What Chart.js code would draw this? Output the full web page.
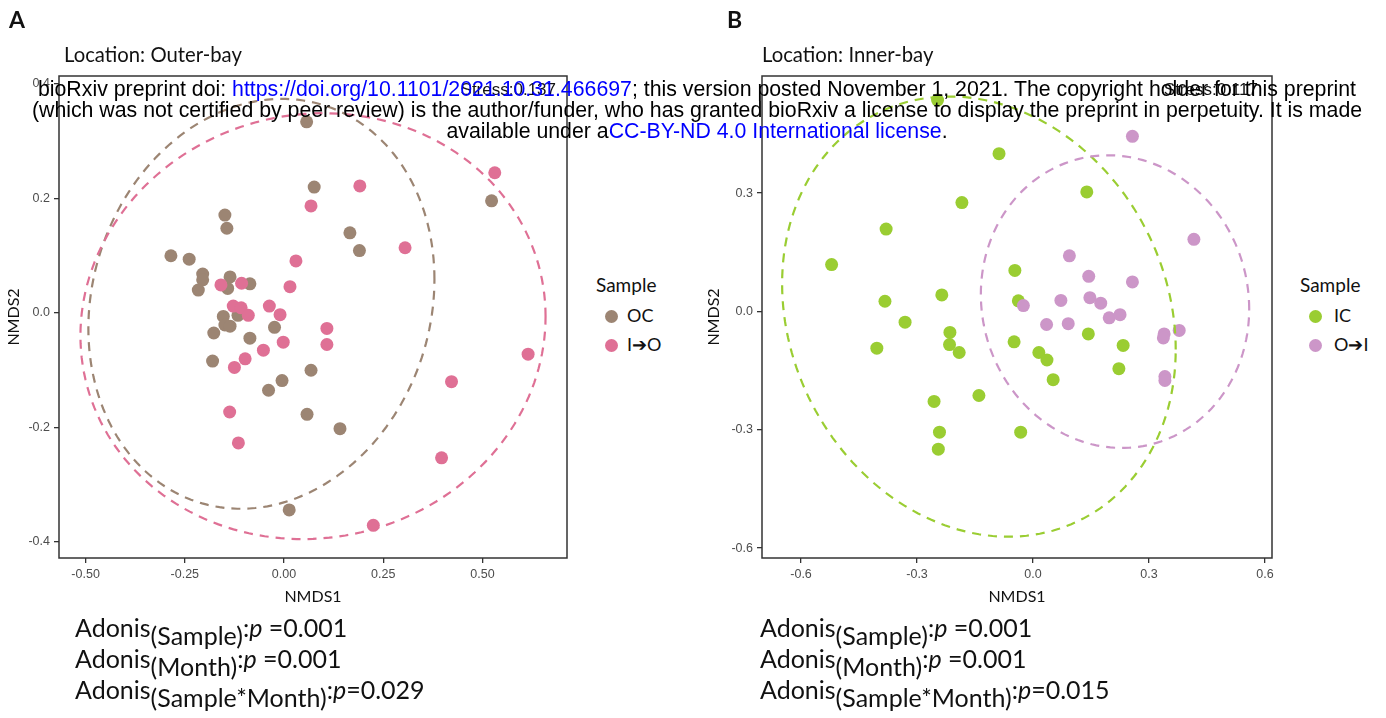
<!DOCTYPE html>
<html>
<head>
<meta charset="utf-8">
<script src="https://cdn.jsdelivr.net/npm/chart.js@4"></script>
<style>
body { margin: 0; background: #fff; width: 1386px; height: 718px; overflow: hidden; position: relative; font-family: Lato, "Open Sans", sans-serif; color: #111; }
canvas { position: absolute; top: 0; }
.txt { position: absolute; white-space: nowrap; }
.letter { font-weight: bold; font-size: 23px; top: 5px; }
.title { font-size: 20.3px; top: 42px; }
.legend-title { font-size: 19px; }
.legend-item { font-size: 18px; }
.dot { position: absolute; width: 13px; height: 13px; border-radius: 50%; }
.adonis { font-size: 25px; line-height: 31px; top: 612px; }
.adonis sub { font-size: 1em; vertical-align: -0.33em; line-height: 0; }
#wm { position: absolute; left: 4px; top: 79px; width: 1386px; text-align: center; font-family: "Liberation Sans", Arial, sans-serif; font-size: 21.3px; line-height: 21px; color: #000; z-index: 5; }
#wm .blue { color: #0000ff; }
.stress { font-family: "Liberation Sans", Arial, sans-serif; font-size: 17px; top: 80px; z-index: 4; }
</style>
</head>
<body>
<canvas id="outer" width="580" height="620" style="left:0px"></canvas>
<canvas id="inner" width="585" height="620" style="left:700px"></canvas>

<div class="txt letter" style="left:9px">A</div>
<div class="txt letter" style="left:727px">B</div>
<div class="txt title" style="left:64px">Location: Outer-bay</div>
<div class="txt title" style="left:762px">Location: Inner-bay</div>

<div class="txt legend-title" style="left:596px;top:273px">Sample</div>
<div class="dot" style="left:605px;top:310px;background:#9c8573"></div>
<div class="txt legend-item" style="left:627px;top:304px">OC</div>
<div class="dot" style="left:605px;top:339px;background:#df7095"></div>
<div class="txt legend-item" style="left:627px;top:333px">I➔O</div>

<div class="txt legend-title" style="left:1300px;top:273px">Sample</div>
<div class="dot" style="left:1309px;top:310px;background:#9acd32"></div>
<div class="txt legend-item" style="left:1334px;top:304px">IC</div>
<div class="dot" style="left:1309px;top:339px;background:#cc96c8"></div>
<div class="txt legend-item" style="left:1334px;top:333px">O➔I</div>

<div class="txt adonis" style="left:75px">Adonis<sub>(Sample)</sub>:<i>p</i> =0.001<br>Adonis<sub>(Month)</sub>:<i>p</i> =0.001<br>Adonis<sub>(Sample*Month)</sub>:<i>p</i>=0.029</div>
<div class="txt adonis" style="left:760px">Adonis<sub>(Sample)</sub>:<i>p</i> =0.001<br>Adonis<sub>(Month)</sub>:<i>p</i> =0.001<br>Adonis<sub>(Sample*Month)</sub>:<i>p</i>=0.015</div>

<div class="txt stress" style="right:830px">Stress:0.137</div>
<div class="txt stress" style="right:128px">Stress:0.117</div>

<div id="wm">
<div>bioRxiv preprint doi: <span class="blue">https://doi.org/10.1101/2021.10.31.466697</span>; this version posted November 1, 2021. The copyright holder for this preprint</div>
<div>(which was not certified by peer review) is the author/funder, who has granted bioRxiv a license to display the preprint in perpetuity. It is made</div>
<div>available under a<span class="blue">CC-BY-ND 4.0 International license</span>.</div>
</div>

<script>
// Outer-bay: OC and I->O samples (NMDS1, NMDS2)
const ocX = [0.057, 0.076, 0.523, -0.149, -0.144, 0.166, 0.190, -0.285, -0.239, -0.205, -0.205, -0.216, -0.136, -0.142, -0.086, -0.153, -0.116, -0.149, -0.136, -0.024, -0.177, -0.086, -0.180, 0.068, -0.005, -0.039, 0.058, 0.141, 0.013];
const ocY = [0.334, 0.220, 0.196, 0.171, 0.148, 0.140, 0.109, 0.100, 0.094, 0.068, 0.058, 0.040, 0.063, 0.043, 0.051, -0.006, -0.004, -0.021, -0.023, -0.025, -0.035, -0.044, -0.084, -0.100, -0.118, -0.135, -0.177, -0.202, -0.344];
const ioX = [0.531, 0.191, 0.068, 0.305, 0.030, 0.015, -0.159, -0.107, -0.037, -0.128, -0.108, -0.090, -0.010, 0.108, 0.108, -0.002, -0.052, -0.098, -0.125, 0.615, 0.422, -0.137, -0.115, 0.397, 0.225];
const ioY = [0.245, 0.222, 0.187, 0.114, 0.091, 0.046, 0.049, 0.052, 0.012, 0.012, 0.009, -0.004, -0.003, -0.027, -0.055, -0.051, -0.065, -0.080, -0.095, -0.072, -0.120, -0.173, -0.227, -0.253, -0.371];

// Inner-bay: IC and O->I samples
const icX = [-0.247, -0.088, 0.139, -0.184, -0.380, -0.521, -0.047, -0.236, -0.383, -0.038, -0.331, -0.215, -0.404, -0.216, -0.191, -0.049, 0.143, 0.233, 0.015, 0.036, 0.222, 0.052, -0.256, -0.140, -0.242, -0.245, -0.032];
const icY = [0.536, 0.400, 0.303, 0.276, 0.209, 0.119, 0.104, 0.042, 0.026, 0.027, -0.027, -0.053, -0.093, -0.084, -0.104, -0.077, -0.057, -0.086, -0.104, -0.123, -0.145, -0.173, -0.228, -0.213, -0.306, -0.349, -0.306];
const oiX = [0.257, 0.416, 0.094, 0.144, 0.257, 0.147, 0.175, 0.072, -0.025, 0.197, 0.225, 0.035, 0.091, 0.339, 0.337, 0.378, 0.341, 0.341];
const oiY = [0.444, 0.183, 0.141, 0.089, 0.075, 0.035, 0.021, 0.028, 0.015, -0.016, -0.008, -0.033, -0.031, -0.057, -0.067, -0.048, -0.165, -0.175];

// 95% ellipses: centre x, centre y, half width, half height, tilt
const ellOC = [-0.057, 0.016, 0.436, 0.358, 0.12];
const ellIO = [0.073, -0.023, 0.586, 0.372, 0.045];
const ellIC = [-0.140, -0.013, 0.509, 0.558, -0.15];
const ellOI = [0.212, 0.025, 0.347, 0.371, -0.05];

const outerXTicks = [-0.5, -0.25, 0, 0.25, 0.5];
const outerYTicks = [-0.4, -0.2, 0, 0.2, 0.4];
const innerXTicks = [-0.6, -0.3, 0, 0.3, 0.6];
const innerYTicks = [-0.6, -0.3, 0, 0.3];

const colOC = '#9c8573', colIO = '#df7095', colIC = '#9acd32', colOI = '#cc96c8';

function pts(xs, ys) {
    return xs.map((x, i) => ({ x: x, y: ys[i] }));
}

const ellipsePlugin = {
    id: 'ellipses',
    afterDatasetsDraw(chart, args, opts) {
        const ctx = chart.ctx;
        const xs = chart.scales.x, ys = chart.scales.y;
        const a = chart.chartArea;
        ctx.save();
        ctx.beginPath();
        ctx.rect(a.left, a.top, a.right - a.left, a.bottom - a.top);
        ctx.clip();
        for (const e of opts.list) {
            const [cx, cy, w, h, d] = e.par;
            ctx.beginPath();
            for (let k = 0; k <= 180; k++) {
                const t = k / 180 * Math.PI * 2;
                const px = xs.getPixelForValue(cx + w * Math.cos(t));
                const py = ys.getPixelForValue(cy + h * Math.sin(t + d));
                if (k === 0) ctx.moveTo(px, py); else ctx.lineTo(px, py);
            }
            ctx.strokeStyle = e.color;
            ctx.lineWidth = 2.2;
            ctx.setLineDash([9, 7]);
            ctx.stroke();
        }
        ctx.restore();
        // panel border
        ctx.save();
        ctx.strokeStyle = '#333';
        ctx.lineWidth = 1.5;
        ctx.strokeRect(a.left, a.top, a.right - a.left, a.bottom - a.top);
        ctx.restore();
    }
};

function axis(min, max, ticks, digits, title, fitFn) {
    return {
        type: 'linear',
        min: min,
        max: max,
        afterBuildTicks: s => { s.ticks = ticks.map(v => ({ value: v })); },
        afterFit: fitFn,
        ticks: {
            callback: v => Number(v).toFixed(digits),
            font: { family: 'Liberation Sans', size: 12.5 },
            color: '#4d4d4d',
            padding: 4
        },
        grid: { drawOnChartArea: false, drawTicks: true, tickLength: 5, color: '#333', lineWidth: 1.3 },
        border: { display: false },
        title: { display: true, text: title, font: { family: 'Lato', size: 16 }, color: '#111', padding: { top: 4, bottom: 4 } }
    };
}

function makePanel(id, sets, ells, xr, yr, xt, yt, xd, yd, yWidth) {
    new Chart(document.getElementById(id), {
        type: 'scatter',
        data: {
            datasets: sets.map(s => ({
                label: s.label,
                data: s.data,
                backgroundColor: s.color,
                borderWidth: 0,
                pointRadius: 6.5,
                order: s.order
            }))
        },
        options: {
            responsive: false,
            animation: false,
            layout: { padding: { top: 76, right: 13, bottom: 10, left: 0 } },
            scales: {
                x: axis(xr[0], xr[1], xt, xd, 'NMDS1', s => { s.height = 52; }),
                y: axis(yr[0], yr[1], yt, yd, 'NMDS2', s => { s.width = yWidth; })
            },
            plugins: {
                legend: { display: false },
                tooltip: { enabled: false },
                ellipses: { list: ells }
            }
        },
        plugins: [ellipsePlugin]
    });
}

makePanel('outer',
    [{ label: 'OC', data: pts(ocX, ocY), color: colOC, order: 1 },
     { label: 'I➔O', data: pts(ioX, ioY), color: colIO, order: 0 }],
    [{ par: ellOC, color: colOC }, { par: ellIO, color: colIO }],
    [-0.567, 0.713], [-0.428, 0.414], outerXTicks, outerYTicks, 2, 1, 59);

makePanel('inner',
    [{ label: 'IC', data: pts(icX, icY), color: colIC, order: 1 },
     { label: 'O➔I', data: pts(oiX, oiY), color: colOI, order: 0 }],
    [{ par: ellIC, color: colIC }, { par: ellOI, color: colOI }],
    [-0.701, 0.618], [-0.625, 0.597], innerXTicks, innerYTicks, 1, 1, 62);
</script>
</body>
</html>
